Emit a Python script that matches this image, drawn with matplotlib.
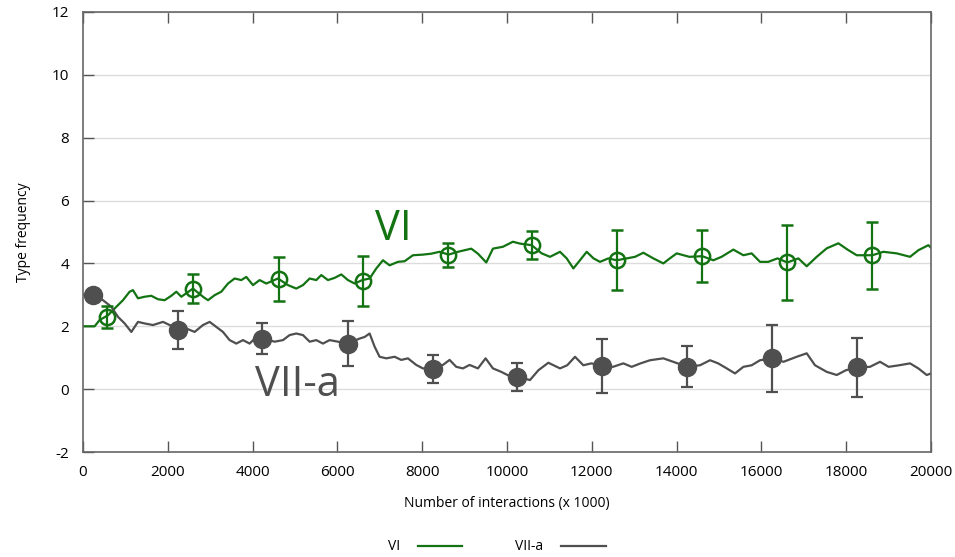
import numpy as np
import matplotlib
matplotlib.use("Agg")
from matplotlib import pyplot as plt

# running type frequency
vi_x = [0, 275, 393, 590, 786, 943, 1100, 1179, 1297, 1454, 1611, 1769, 1926,
        2083, 2201, 2319, 2594, 2830, 2948, 3105, 3262, 3419, 3576, 3734, 3851,
        4009, 4166, 4323, 4598, 4834, 5030, 5188, 5345, 5502, 5620, 5777, 5934,
        6092, 6249, 6406, 6587, 6760, 6917, 7074, 7231, 7428, 7585, 7781, 8017,
        8214, 8410, 8622, 8843, 9000, 9157, 9314, 9511, 9668, 9904, 10139,
        10307, 10582, 10818, 11014, 11250, 11408, 11565, 11720, 11880, 12040,
        12193, 12390, 12587, 12822, 13020, 13215, 13451, 13687, 13840, 14002,
        14300, 14606, 14866, 15060, 15338, 15574, 15770, 15967, 16160, 16380,
        16611, 16871, 17068, 17304, 17540, 17815, 18030, 18248, 18616, 18876,
        19190, 19505, 19701, 19937, 20000]
vi_y = [2.0, 2.0, 2.2, 2.35, 2.62, 2.83, 3.1, 3.15, 2.89, 2.94, 2.97, 2.86, 2.83,
        2.97, 3.1, 2.94, 3.2, 2.94, 2.83, 2.99, 3.1, 3.36, 3.52, 3.47, 3.57,
        3.31, 3.47, 3.36, 3.52, 3.31, 3.2, 3.31, 3.52, 3.47, 3.63, 3.47, 3.54,
        3.65, 3.47, 3.36, 3.47, 3.52, 3.84, 4.1, 3.94, 4.05, 4.07, 4.26, 4.28,
        4.31, 4.37, 4.28, 4.37, 4.42, 4.47, 4.31, 4.03, 4.47, 4.53, 4.69,
        4.63, 4.58, 4.32, 4.21, 4.37, 4.16, 3.84, 4.1, 4.37, 4.16,
        4.05, 4.16, 4.1, 4.16, 4.21, 4.34, 4.16, 4.0, 4.16, 4.32,
        4.21, 4.23, 4.1, 4.21, 4.44, 4.26, 4.32, 4.05, 4.05, 4.16,
        4.03, 4.16, 3.91, 4.21, 4.48, 4.64, 4.44, 4.26, 4.26, 4.37,
        4.32, 4.21, 4.42, 4.58, 4.5]

vii_x = [0, 236, 472, 668, 825, 983, 1140, 1297, 1454, 1651, 1887, 2044, 2240,
         2437, 2633, 2830, 2987, 3144, 3301, 3458, 3616, 3773, 3930, 4087, 4244,
         4520, 4716, 4873, 5030, 5188, 5345, 5502, 5659, 5816, 6013, 6249, 6524,
         6642, 6760, 6878, 6995, 7153, 7349, 7506, 7663, 7860, 8017, 8253, 8489,
         8646, 8803, 8960, 9118, 9314, 9495, 9668, 9864, 10100, 10243, 10542,
         10739, 10975, 11250, 11420, 11604, 11800, 11990, 12248, 12500, 12743,
         12940, 13150, 13373, 13687, 13920, 14252, 14552, 14788, 14980, 15182,
         15377, 15574, 15770, 15967, 16257, 16520, 16832, 17068, 17264, 17540,
         17776, 17990, 18247, 18560, 18797, 19000, 19250, 19505, 19701, 19898,
         20000]
vii_y = [3.0, 3.04, 2.83, 2.62, 2.3, 2.09, 1.82, 2.14, 2.09, 2.04, 2.14, 2.04, 1.88,
         1.93, 1.82, 2.04, 2.14, 1.98, 1.82, 1.56, 1.45, 1.56, 1.45, 1.66, 1.61,
         1.51, 1.56, 1.72, 1.77, 1.72, 1.51, 1.56, 1.45, 1.56, 1.51, 1.45, 1.61,
         1.66, 1.77, 1.35, 1.03, 0.98, 1.03, 0.93, 0.98, 0.77, 0.66, 0.64, 0.77,
         0.93, 0.71, 0.66, 0.77, 0.66, 0.98, 0.66, 0.55, 0.39, 0.39, 0.29,
         0.6, 0.84, 0.66, 0.76, 1.03, 0.76, 0.82, 0.74, 0.71, 0.82,
         0.71, 0.82, 0.92, 0.98, 0.87, 0.71, 0.76, 0.92, 0.82, 0.66,
         0.5, 0.71, 0.76, 0.92, 0.98, 0.87, 1.03, 1.14, 0.76, 0.55,
         0.45, 0.6, 0.69, 0.71, 0.87, 0.71, 0.76, 0.82, 0.66, 0.45,
         0.5]

# sampled means with error bars
vi_mx = [574, 2601, 4615, 6611, 8616, 10582, 12587, 14606, 16611, 18616]
vi_my = [2.3, 3.2, 3.5, 3.45, 4.26, 4.58, 4.1, 4.23, 4.03, 4.26]
vi_err = [0.35, 0.46, 0.71, 0.8, 0.38, 0.45, 0.96, 0.82, 1.19, 1.07]

vii_mx = [243, 2248, 4229, 6243, 8247, 10243, 12248, 14252, 16257, 18247]
vii_my = [3.01, 1.88, 1.61, 1.45, 0.63, 0.39, 0.74, 0.71, 0.98, 0.69]
vii_err = [0.0, 0.6, 0.48, 0.72, 0.45, 0.45, 0.85, 0.65, 1.07, 0.95]

green = "#137313"
grey = "#4f4f4f"
font = "Open Sans"

plt.rcParams["font.family"] = [font, "DejaVu Sans"]
plt.rcParams["axes.unicode_minus"] = False

fig = plt.figure(figsize=(9.55, 5.57), dpi=100)
ax = fig.add_axes([0.0869, 0.1885, 0.888, 0.79])

ax.plot(vi_x, vi_y, color=green, lw=1.6, label="VI")
ax.plot(vii_x, vii_y, color=grey, lw=1.6, label="VII-a")

ax.errorbar(vi_mx, vi_my, yerr=vi_err, fmt="o", mfc="none", mec=green,
            mew=1.8, ms=11, ecolor=green, elinewidth=1.6, capsize=4.5,
            capthick=1.6)
ax.errorbar(vii_mx, vii_my, yerr=vii_err, fmt="o", color=grey, ms=13,
            ecolor=grey, elinewidth=1.6, capsize=4.5, capthick=1.6)

ax.text(7311, 5.09, "VI", color=green, fontsize=30, ha="center", va="center")
ax.text(5047, 0.13, "VII-a", color=grey, fontsize=30, ha="center",
        va="center")

ax.set_xlim(0, 20000)
ax.set_ylim(-2, 12)
ax.set_xticks(np.arange(0, 20001, 2000))
ax.set_yticks(np.arange(-2, 13, 2))
ax.yaxis.grid(True, color="#dcdcdc", lw=1.0)
ax.set_axisbelow(True)

ax.tick_params(axis="x", direction="in", top=True, bottom=True, length=8,
               width=1, color="#555555", labelsize=11, pad=9)
ax.tick_params(axis="y", direction="in", left=True, right=False, length=8,
               width=1, color="#555555", labelsize=11, pad=10)
for s in ax.spines.values():
    s.set_color("#666666")
    s.set_linewidth(1.2)

ax.set_xlabel("Number of interactions (x 1000)", fontsize=10, labelpad=12)
ax.set_ylabel("Type frequency", fontsize=10, labelpad=15)

handles, labels = ax.get_legend_handles_labels()
fig.legend(handles[:2], labels[:2], loc="center", bbox_to_anchor=(0.52, 0.018),
           ncol=2, frameon=False, markerfirst=False, fontsize=10,
           handlelength=3.2, handletextpad=1.3, columnspacing=3.8)

fig.savefig("out.png", dpi=100)
